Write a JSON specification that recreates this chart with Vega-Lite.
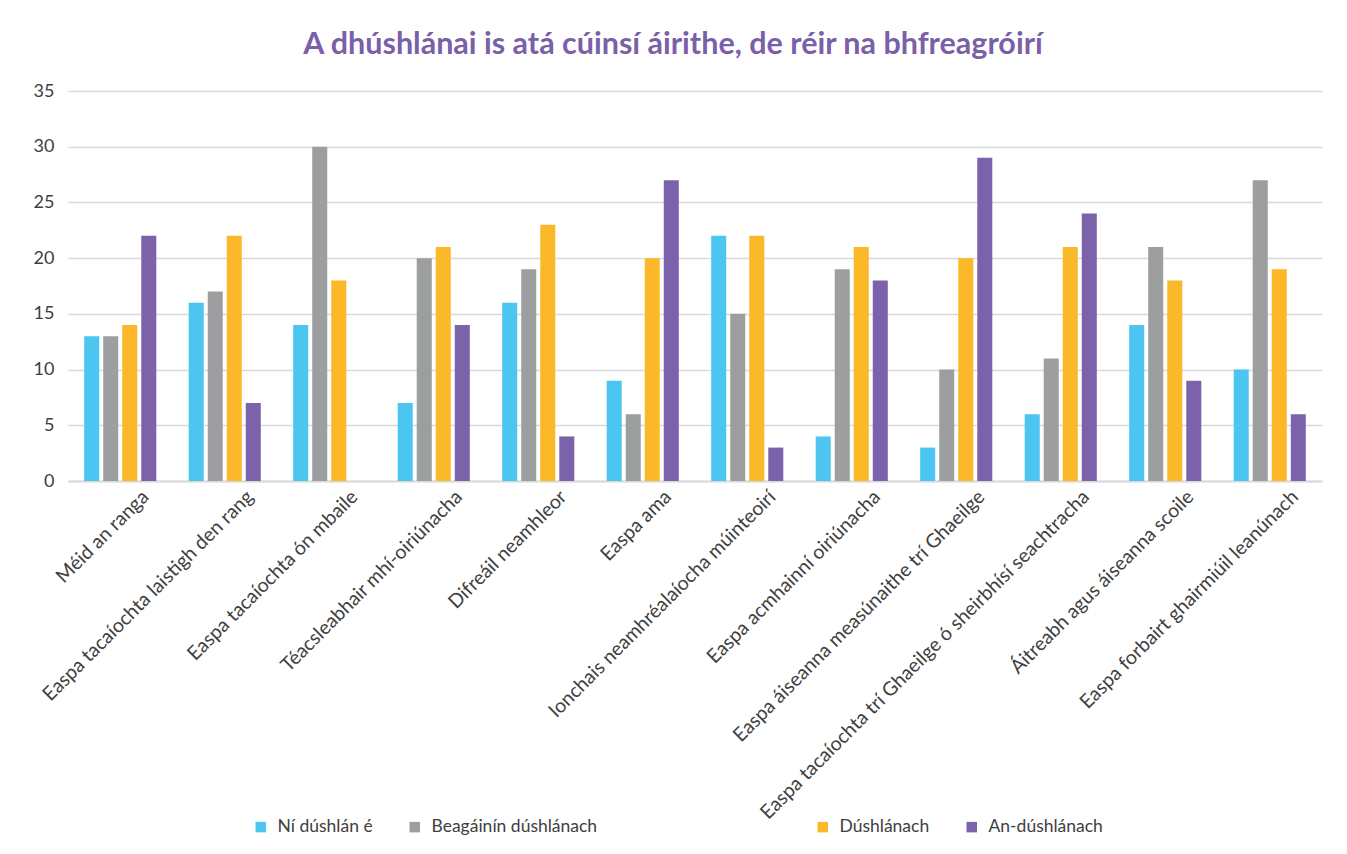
{
  "$schema": "https://vega.github.io/schema/vega-lite/v6.json",
  "width": 1254,
  "height": 390,
  "autosize": {"type": "none"},
  "padding": {"left": 68, "top": 91, "right": 25, "bottom": 373},
  "background": "white",
  "title": {
    "text": "A dhúshlánai is atá cúinsí áirithe, de réir na bhfreagróirí",
    "font": "Lato",
    "fontSize": 30.5,
    "fontWeight": "bold",
    "color": "#7A5FA9",
    "anchor": "middle",
    "frame": "group",
    "dx": -22,
    "baseline": "alphabetic",
    "offset": -2
  },
  "config": {
    "view": {"stroke": null},
    "legend": {
      "title": null,
      "orient": "none",
      "direction": "horizontal",
      "symbolType": "square",
      "symbolSize": 110,
      "symbolStrokeWidth": 0,
      "labelFont": "Lato",
      "labelFontSize": 17.5,
      "labelColor": "#404040",
      "labelLimit": 400,
      "labelOffset": 8,
      "columnPadding": 33,
      "padding": 0
    }
  },
  "data": {
    "values": [
      {"category": "Méid an ranga", "series": "Ní dúshlán é", "value": 13},
      {"category": "Méid an ranga", "series": "Beagáinín dúshlánach", "value": 13},
      {"category": "Méid an ranga", "series": "Dúshlánach", "value": 14},
      {"category": "Méid an ranga", "series": "An-dúshlánach", "value": 22},
      {"category": "Easpa tacaíochta laistigh den rang", "series": "Ní dúshlán é", "value": 16},
      {"category": "Easpa tacaíochta laistigh den rang", "series": "Beagáinín dúshlánach", "value": 17},
      {"category": "Easpa tacaíochta laistigh den rang", "series": "Dúshlánach", "value": 22},
      {"category": "Easpa tacaíochta laistigh den rang", "series": "An-dúshlánach", "value": 7},
      {"category": "Easpa tacaíochta ón mbaile", "series": "Ní dúshlán é", "value": 14},
      {"category": "Easpa tacaíochta ón mbaile", "series": "Beagáinín dúshlánach", "value": 30},
      {"category": "Easpa tacaíochta ón mbaile", "series": "Dúshlánach", "value": 18},
      {"category": "Easpa tacaíochta ón mbaile", "series": "An-dúshlánach", "value": 0},
      {"category": "Téacsleabhair mhí-oiriúnacha", "series": "Ní dúshlán é", "value": 7},
      {"category": "Téacsleabhair mhí-oiriúnacha", "series": "Beagáinín dúshlánach", "value": 20},
      {"category": "Téacsleabhair mhí-oiriúnacha", "series": "Dúshlánach", "value": 21},
      {"category": "Téacsleabhair mhí-oiriúnacha", "series": "An-dúshlánach", "value": 14},
      {"category": "Difreáil neamhleor", "series": "Ní dúshlán é", "value": 16},
      {"category": "Difreáil neamhleor", "series": "Beagáinín dúshlánach", "value": 19},
      {"category": "Difreáil neamhleor", "series": "Dúshlánach", "value": 23},
      {"category": "Difreáil neamhleor", "series": "An-dúshlánach", "value": 4},
      {"category": "Easpa ama", "series": "Ní dúshlán é", "value": 9},
      {"category": "Easpa ama", "series": "Beagáinín dúshlánach", "value": 6},
      {"category": "Easpa ama", "series": "Dúshlánach", "value": 20},
      {"category": "Easpa ama", "series": "An-dúshlánach", "value": 27},
      {"category": "Ionchais neamhréalaíocha múinteoirí", "series": "Ní dúshlán é", "value": 22},
      {"category": "Ionchais neamhréalaíocha múinteoirí", "series": "Beagáinín dúshlánach", "value": 15},
      {"category": "Ionchais neamhréalaíocha múinteoirí", "series": "Dúshlánach", "value": 22},
      {"category": "Ionchais neamhréalaíocha múinteoirí", "series": "An-dúshlánach", "value": 3},
      {"category": "Easpa acmhainní oiriúnacha", "series": "Ní dúshlán é", "value": 4},
      {"category": "Easpa acmhainní oiriúnacha", "series": "Beagáinín dúshlánach", "value": 19},
      {"category": "Easpa acmhainní oiriúnacha", "series": "Dúshlánach", "value": 21},
      {"category": "Easpa acmhainní oiriúnacha", "series": "An-dúshlánach", "value": 18},
      {"category": "Easpa áiseanna measúnaithe trí Ghaeilge", "series": "Ní dúshlán é", "value": 3},
      {"category": "Easpa áiseanna measúnaithe trí Ghaeilge", "series": "Beagáinín dúshlánach", "value": 10},
      {"category": "Easpa áiseanna measúnaithe trí Ghaeilge", "series": "Dúshlánach", "value": 20},
      {"category": "Easpa áiseanna measúnaithe trí Ghaeilge", "series": "An-dúshlánach", "value": 29},
      {"category": "Easpa tacaíochta trí Ghaeilge ó sheirbhísí seachtracha", "series": "Ní dúshlán é", "value": 6},
      {"category": "Easpa tacaíochta trí Ghaeilge ó sheirbhísí seachtracha", "series": "Beagáinín dúshlánach", "value": 11},
      {"category": "Easpa tacaíochta trí Ghaeilge ó sheirbhísí seachtracha", "series": "Dúshlánach", "value": 21},
      {"category": "Easpa tacaíochta trí Ghaeilge ó sheirbhísí seachtracha", "series": "An-dúshlánach", "value": 24},
      {"category": "Áitreabh agus áiseanna scoile", "series": "Ní dúshlán é", "value": 14},
      {"category": "Áitreabh agus áiseanna scoile", "series": "Beagáinín dúshlánach", "value": 21},
      {"category": "Áitreabh agus áiseanna scoile", "series": "Dúshlánach", "value": 18},
      {"category": "Áitreabh agus áiseanna scoile", "series": "An-dúshlánach", "value": 9},
      {"category": "Easpa forbairt ghairmiúil leanúnach", "series": "Ní dúshlán é", "value": 10},
      {"category": "Easpa forbairt ghairmiúil leanúnach", "series": "Beagáinín dúshlánach", "value": 27},
      {"category": "Easpa forbairt ghairmiúil leanúnach", "series": "Dúshlánach", "value": 19},
      {"category": "Easpa forbairt ghairmiúil leanúnach", "series": "An-dúshlánach", "value": 6}
    ]
  },
  "encoding": {
    "x": {
      "field": "category",
      "type": "nominal",
      "sort": null,
      "scale": {"paddingInner": 0.31, "paddingOuter": 0.155},
      "axis": {
        "title": null,
        "labelAngle": -45,
        "labelAlign": "right",
        "labelBaseline": "top",
        "labelOffset": 19,
        "labelPadding": 6,
        "labelLimit": 800,
        "ticks": false,
        "domainColor": "#d9d9d9",
        "domainWidth": 2,
        "labelFont": "Lato",
        "labelFontSize": 19.5,
        "labelColor": "#404040"
      }
    },
    "y": {
      "field": "value",
      "type": "quantitative",
      "scale": {"domain": [0, 35], "nice": false},
      "axis": {
        "title": null,
        "values": [0, 5, 10, 15, 20, 25, 30, 35],
        "domain": false,
        "ticks": false,
        "gridColor": "#d9d9d9",
        "gridWidth": 1.5,
        "labelFont": "Lato",
        "labelFontSize": 18,
        "labelColor": "#404040",
        "labelPadding": 14
      }
    },
    "xOffset": {
      "field": "series",
      "type": "nominal",
      "scale": {
        "domain": ["Ní dúshlán é", "Beagáinín dúshlánach", "Dúshlánach", "An-dúshlánach"],
        "paddingInner": 0.21,
        "paddingOuter": 0
      }
    }
  },
  "layer": [
    {
      "transform": [{"filter": {"field": "series", "oneOf": ["Ní dúshlán é", "Beagáinín dúshlánach"]}}],
      "mark": {"type": "bar"},
      "encoding": {
        "color": {
          "field": "series",
          "type": "nominal",
          "scale": {"domain": ["Ní dúshlán é", "Beagáinín dúshlánach"], "range": ["#4CC5F0", "#9D9EA0"]},
          "legend": {"legendX": 184, "legendY": 727}
        }
      }
    },
    {
      "transform": [{"filter": {"field": "series", "oneOf": ["Dúshlánach", "An-dúshlánach"]}}],
      "mark": {"type": "bar"},
      "encoding": {
        "color": {
          "field": "series",
          "type": "nominal",
          "scale": {"domain": ["Dúshlánach", "An-dúshlánach"], "range": ["#FBB829", "#7B62AB"]},
          "legend": {"legendX": 746, "legendY": 727}
        }
      }
    }
  ],
  "resolve": {"scale": {"color": "independent"}, "legend": {"color": "independent"}}
}
